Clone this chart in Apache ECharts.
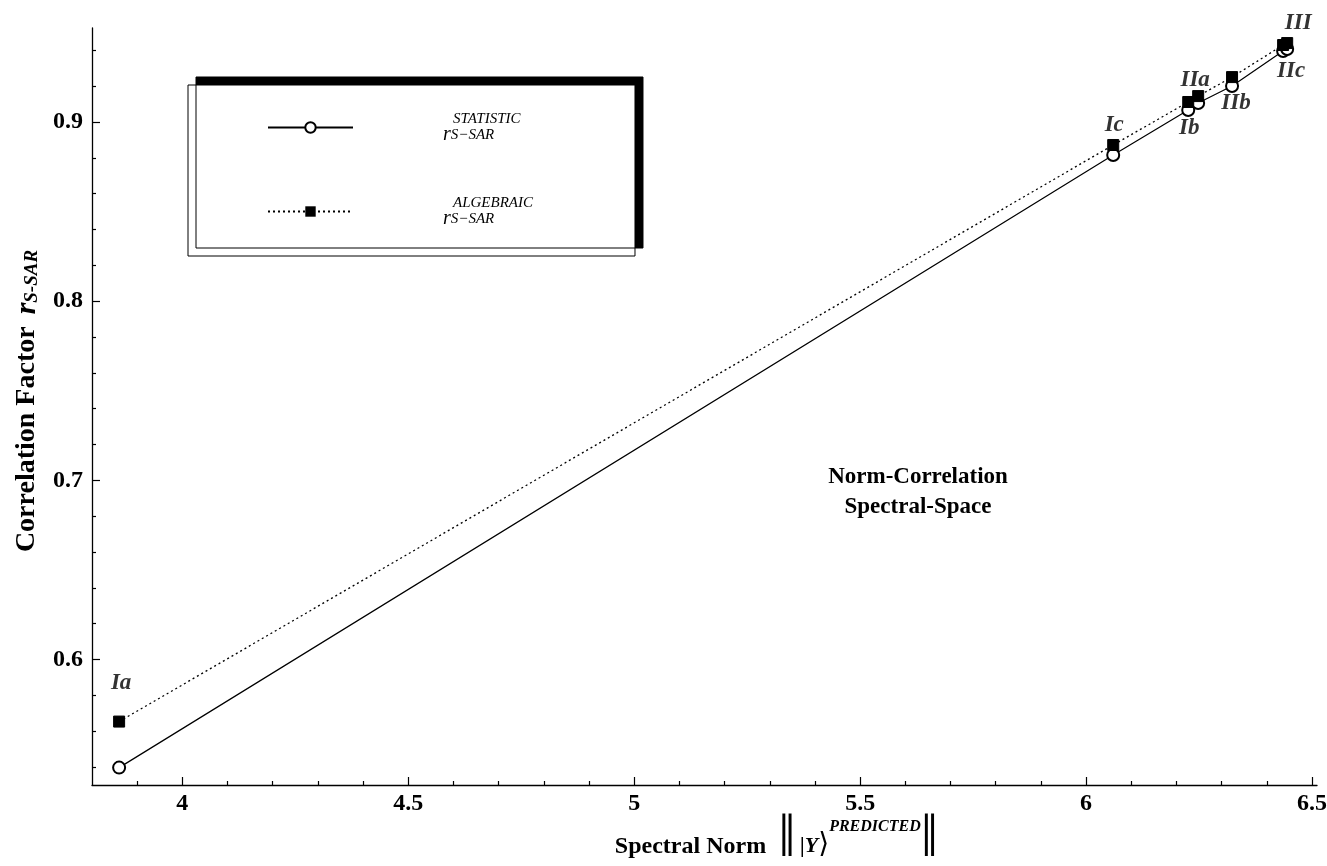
<!DOCTYPE html>
<html><head><meta charset="utf-8">
<script src="https://cdn.jsdelivr.net/npm/echarts@6/dist/echarts.min.js"></script>
<style>html,body{margin:0;padding:0;background:#fff}#c{width:1327px;height:866px}</style>
</head><body><div id="c"></div>
<script>
// ---- data ----
const pointNames   = ['Ia', 'Ic', 'Ib', 'IIa', 'IIb', 'IIc', 'III'];
const spectralNorm = [3.86, 6.06, 6.226, 6.248, 6.323, 6.436, 6.445];
const rStatistic   = [0.5397, 0.8816, 0.9067, 0.9106, 0.9201, 0.9397, 0.9408];
const rAlgebraic   = [0.5654, 0.8872, 0.9112, 0.9145, 0.9251, 0.9430, 0.9441];
const xTickLabels  = [4, 4.5, 5, 5.5, 6, 6.5];
const xMinorTicks  = [3.9, 4.1, 4.2, 4.3, 4.4, 4.6, 4.7, 4.8, 4.9, 5.1, 5.2, 5.3, 5.4, 5.6, 5.7, 5.8, 5.9, 6.1, 6.2, 6.3, 6.4];
const yTickLabels  = [0.6, 0.7, 0.8, 0.9];
const yMinorTicks  = [0.54, 0.56, 0.58, 0.62, 0.64, 0.66, 0.68, 0.72, 0.74, 0.76, 0.78, 0.82, 0.84, 0.86, 0.88, 0.92, 0.94];
const seriesNames  = ['STATISTIC', 'ALGEBRAIC'];

// ---- styling (label placement per point: which series it sits by, and pixel offset) ----
const labelPlace = {
  Ia:  {s: 'alg',  off: [2, -39]},
  Ic:  {s: 'alg',  off: [1, -20]},
  Ib:  {s: 'stat', off: [1, 18]},
  IIa: {s: 'alg',  off: [-3, -16]},
  IIb: {s: 'stat', off: [4, 17]},
  IIc: {s: 'stat', off: [8, 20]},
  III: {s: 'alg',  off: [11, -20]}
};
const SERIF = '"Liberation Serif", "Times New Roman", serif';
const black = '#000';

const statData = spectralNorm.map((x, i) => [x, rStatistic[i]]);
const algData  = spectralNorm.map((x, i) => [x, rAlgebraic[i]]);
const labelData = pointNames.map((n, i) => {
  const p = labelPlace[n];
  return {
    name: n,
    value: [spectralNorm[i], p.s === 'alg' ? rAlgebraic[i] : rStatistic[i]],
    label: {offset: p.off}
  };
});

const chart = echarts.init(document.getElementById('c'), null, {renderer: 'canvas'});
const tickLine = {color: black, width: 1.2};

chart.setOption({
  backgroundColor: '#fff',
  animation: false,
  grid: {left: 92, right: 10, top: 28, bottom: 81, containLabel: false, outerBoundsMode: 'none'},
  legend: {
    data: seriesNames,
    orient: 'vertical',
    left: 188, top: 85,
    padding: [27, 102, 27, 79],
    itemWidth: 85, itemHeight: 13, itemGap: 51,
    selectedMode: false,
    backgroundColor: '#fff', borderColor: black, borderWidth: 1,
    shadowColor: black, shadowBlur: 0, shadowOffsetX: 8, shadowOffsetY: -8,
    formatter: name => '{sp1|\u00a0}{sup|' + name + '}\n{sp|\u00a0}{r|r}{sub|S\u2212SAR}',
    textStyle: {
      color: black,
      rich: {
        sp1: {width: 95, fontSize: 14},
        sp:  {width: 85, fontSize: 14},
        sup: {fontFamily: SERIF, fontStyle: 'italic', fontSize: 15, color: black, lineHeight: 15},
        r:   {fontFamily: SERIF, fontStyle: 'italic', fontSize: 20, color: black, lineHeight: 16},
        sub: {fontFamily: SERIF, fontStyle: 'italic', fontSize: 15, color: black, lineHeight: 16}
      }
    }
  },
  xAxis: [{
    type: 'value', min: 3.8, max: 6.511, position: 'bottom',
    axisLine: {show: true, onZero: false, lineStyle: {color: black, width: 1.3}},
    axisTick: {show: true, inside: true, length: 8, customValues: xTickLabels, lineStyle: tickLine},
    axisLabel: {customValues: xTickLabels, color: black, fontFamily: SERIF, fontWeight: 'bold', fontSize: 24, margin: 7,
                formatter: v => String(v)},
    splitLine: {show: false},
    name: '{b|Spectral Norm}\u2003{bar|\u2016}{yy|\u2009|Y}{ang|\u27E9}{sup|PREDICTED}{bar|\u2016}',
    nameLocation: 'middle', nameGap: 24, nameMoveOverlap: false,
    nameTextStyle: {
      padding: [0, 0, 0, 144],
      rich: {
        b:   {fontFamily: SERIF, fontWeight: 'bold', fontSize: 24, color: black, verticalAlign: 'middle', padding: [14, 0, 0, 0]},
        bar: {fontFamily: SERIF, fontSize: 62, color: black, verticalAlign: 'middle', lineHeight: 62},
        yy:  {fontFamily: SERIF, fontWeight: 'bold', fontStyle: 'italic', fontSize: 22, color: black, verticalAlign: 'middle', padding: [12, 0, 0, 0]},
        ang: {fontFamily: '"DejaVu Serif", serif', fontSize: 28, color: black, verticalAlign: 'middle', padding: [10, 0, 0, 0]},
        sup: {fontFamily: SERIF, fontWeight: 'bold', fontStyle: 'italic', fontSize: 16, color: black, verticalAlign: 'top', padding: [10, 0, 0, 0]}
      }
    }
  }, {
    type: 'value', min: 3.8, max: 6.511, position: 'bottom',
    axisLine: {show: false, onZero: false},
    axisTick: {show: true, inside: true, length: 4, customValues: xMinorTicks, lineStyle: tickLine},
    axisLabel: {show: false, customValues: xMinorTicks},
    splitLine: {show: false}
  }],
  yAxis: [{
    type: 'value', min: 0.53, max: 0.9525, position: 'left',
    axisLine: {show: true, onZero: false, lineStyle: {color: black, width: 1.3}},
    axisTick: {show: true, inside: true, length: 8, customValues: yTickLabels, lineStyle: tickLine},
    axisLabel: {customValues: yTickLabels, color: black, fontFamily: SERIF, fontWeight: 'bold', fontSize: 24, margin: 9,
                formatter: v => v.toFixed(1)},
    splitLine: {show: false},
    name: '{b|Correlation Factor}\u2003{r|r}{sub|S-SAR}',
    nameLocation: 'middle', nameRotate: 90, nameGap: 50, nameMoveOverlap: false,
    nameTextStyle: {
      padding: [0, 0, 0, 11],
      rich: {
        b:   {fontFamily: SERIF, fontWeight: 'bold', fontSize: 28, color: black, verticalAlign: 'middle'},
        r:   {fontFamily: SERIF, fontWeight: 'bold', fontStyle: 'italic', fontSize: 30, color: black, verticalAlign: 'middle'},
        sub: {fontFamily: SERIF, fontWeight: 'bold', fontStyle: 'italic', fontSize: 19, color: black, verticalAlign: 'bottom'}
      }
    }
  }, {
    type: 'value', min: 0.53, max: 0.9525, position: 'left',
    axisLine: {show: false, onZero: false},
    axisTick: {show: true, inside: true, length: 4, customValues: yMinorTicks, lineStyle: tickLine},
    axisLabel: {show: false, customValues: yMinorTicks},
    splitLine: {show: false}
  }],
  graphic: [{
    type: 'text', x: 918, y: 492, silent: true,
    style: {
      text: 'Norm-Correlation\nSpectral-Space',
      font: 'bold 23px ' + SERIF,
      textAlign: 'center', textVerticalAlign: 'middle',
      lineHeight: 30, fill: black
    }
  }],
  series: [{
    name: seriesNames[0], type: 'line', data: statData,
    xAxisIndex: 0, yAxisIndex: 0,
    symbol: 'emptyCircle', symbolSize: 12, showAllSymbol: true,
    itemStyle: {color: black, borderColor: black, borderWidth: 1.2},
    lineStyle: {color: black, width: 1.2, type: 'solid'},
    emphasis: {disabled: true}, z: 3
  }, {
    name: seriesNames[1], type: 'line', data: algData,
    xAxisIndex: 0, yAxisIndex: 0,
    symbol: 'rect', symbolSize: 11, showAllSymbol: true,
    itemStyle: {color: black, borderColor: black},
    lineStyle: {color: black, width: 1.3, type: [2, 3]},
    emphasis: {disabled: true}, z: 4
  }, {
    name: 'labels', type: 'scatter', data: labelData,
    xAxisIndex: 0, yAxisIndex: 0,
    symbolSize: 0, silent: true,
    label: {
      show: true, position: 'inside', formatter: p => p.name,
      fontFamily: SERIF, fontWeight: 'bold', fontStyle: 'italic', fontSize: 23, color: black
    },
    z: 5
  }]
});
</script>
</body></html>
